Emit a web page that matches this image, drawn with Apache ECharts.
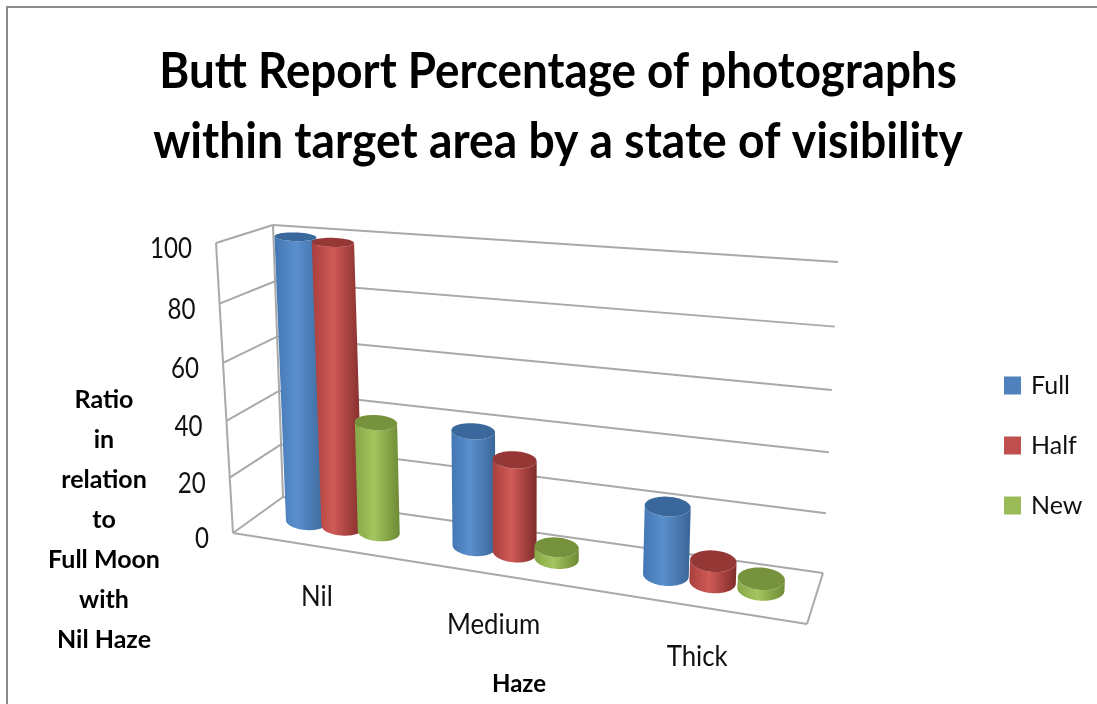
<!DOCTYPE html>
<html>
<head>
<meta charset="utf-8">
<style>
  html, body { margin: 0; padding: 0; background: #fff; }
  #chart { width: 1097px; height: 704px; }
</style>
<script src="https://cdn.jsdelivr.net/npm/echarts@6/dist/echarts.min.js"></script>
</head>
<body>
<div id="chart"></div>
<script>
const hazeLevels = ["Nil", "Medium", "Thick"];
const yTicks = [0, 20, 40, 60, 80, 100];
const fullMoon = [100, 40, 23];
const halfMoon = [99, 32, 7];
const newMoon = [39, 4, 3.5];

const FONT = "Lato, 'Open Sans', sans-serif";

// corners of the tilted box on the page, order: (0,0) (1,0) (1,1) (0,1)
const floorQuad = [[283, 497], [823, 573], [807, 624], [233, 533]];
const backQuad = [[283, 497], [823, 573], [838, 262], [273, 225]];
const frontQuad = [[233, 533], [807, 624], [826, 292], [216, 243]];

function quadMap(q) {
  const [p0, p1, p2, p3] = q;
  const dx1 = p1[0] - p2[0], dx2 = p3[0] - p2[0], sx = p0[0] - p1[0] + p2[0] - p3[0];
  const dy1 = p1[1] - p2[1], dy2 = p3[1] - p2[1], sy = p0[1] - p1[1] + p2[1] - p3[1];
  const det = dx1 * dy2 - dx2 * dy1;
  const g = (sx * dy2 - dx2 * sy) / det;
  const h = (dx1 * sy - sx * dy1) / det;
  const a = p1[0] - p0[0] + g * p1[0], b = p3[0] - p0[0] + h * p3[0];
  const d = p1[1] - p0[1] + g * p1[1], e = p3[1] - p0[1] + h * p3[1];
  return (u, v) => {
    const w = g * u + h * v + 1;
    return [(a * u + b * v + p0[0]) / w, (d * u + e * v + p0[1]) / w];
  };
}
const floorMap = quadMap(floorQuad);
const backMap = quadMap(backQuad);
const frontMap = quadMap(frontQuad);

// u across the floor, h up the wall, w from back wall (0) to front edge (1)
function project(u, h, w) {
  const base = floorMap(u, w);
  const b0 = backMap(u, 0), b1 = backMap(u, h);
  const f0 = frontMap(u, 0), f1 = frontMap(u, h);
  return [
    base[0] + (b1[0] - b0[0]) * (1 - w) + (f1[0] - f0[0]) * w,
    base[1] + (b1[1] - b0[1]) * (1 - w) + (f1[1] - f0[1]) * w
  ];
}

// the hidden grid gives u and h through the library's scales
function toBox(api, params, cat, val) {
  const pt = api.coord([cat, val]);
  const cs = params.coordSys;
  return [(pt[0] - cs.x) / cs.width, (cs.y + cs.height - pt[1]) / cs.height];
}

const GRID_LINE = { stroke: "#a9a9a9", lineWidth: 2 };
const BAR_ROW = 0.5, BAR_STEP = 0.0745, BAR_SHIFT = 0.011, RAD_U = 0.04, RAD_W = 0.23;

function seg(a, b) {
  return { type: "line", shape: { x1: a[0], y1: a[1], x2: b[0], y2: b[1] }, style: GRID_LINE };
}

function renderWall(params, api) {
  const h = toBox(api, params, 0, api.value(0))[1];
  const kids = [seg(project(0, h, 1), project(0, h, 0)), seg(project(0, h, 0), project(1, h, 0))];
  if (h === 0) {
    kids.push(seg(project(0, 0, 1), project(1, 0, 1)));
    kids.push(seg(project(1, 0, 1), project(1, 0, 0)));
    kids.push(seg(project(0, 0, 1), project(0, 1, 1)));
    kids.push(seg(project(0, 0, 0), project(0, 1, 0)));
  }
  return { type: "group", children: kids };
}

function renderTick(params, api) {
  const val = api.value(0);
  const h = toBox(api, params, 0, val)[1];
  const p = project(0, h, 1);
  return {
    type: "text",
    x: p[0] - 24, y: p[1] + 6,
    scaleX: 0.86,
    style: { text: String(val), fill: "#111", font: "28px " + FONT, textAlign: "right", textVerticalAlign: "middle" }
  };
}

function renderCat(params, api) {
  const i = api.value(0);
  const u = toBox(api, params, i, 0)[0];
  const p = project(u, 0, 1);
  return {
    type: "text",
    x: p[0] + 4, y: p[1] + 51,
    scaleX: 0.92,
    style: { text: hazeLevels[i], fill: "#111", font: "28px " + FONT, textAlign: "center", textVerticalAlign: "middle" }
  };
}

function ellipsePts(c, rx, tilt, ry, from, to) {
  const pts = [];
  for (let k = 0; k <= 48; k++) {
    const t = from + (to - from) * k / 48;
    pts.push([c[0] + rx * Math.cos(t), c[1] + rx * tilt * Math.cos(t) + ry * Math.sin(t)]);
  }
  return pts;
}

function cylinder(slot, shades) {
  return function (params, api) {
    const box = toBox(api, params, api.value(0), api.value(1));
    const u = box[0] + BAR_SHIFT + slot * BAR_STEP, h = box[1];
    const top = project(u, h, BAR_ROW), bot = project(u, 0, BAR_ROW);
    // perspective overdoes the width change from left to right, so damp it
    const radius = (hh) => {
      const a = project(u - RAD_U, hh, BAR_ROW), b = project(u + RAD_U, hh, BAR_ROW);
      return 13 + 0.4 * Math.abs(b[0] - a[0]) / 2;
    };
    const slope = (hh) => {
      const a = project(u - RAD_U, hh, BAR_ROW), b = project(u + RAD_U, hh, BAR_ROW);
      return 0.4 * (b[1] - a[1]) / (b[0] - a[0]);
    };
    const ryOf = (hh) => Math.abs(project(u, hh, BAR_ROW + RAD_W)[1] - project(u, hh, BAR_ROW - RAD_W)[1]) / 2;
    const rt = radius(h), rb = radius(0), st = slope(h), sb = slope(0), ryT = ryOf(h), ryB = ryOf(0);
    const body = ellipsePts(top, rt, st, ryT, Math.PI, 0).concat(ellipsePts(bot, rb, sb, ryB, 0, Math.PI));
    return {
      type: "group",
      children: [
        {
          type: "polygon",
          shape: { points: body },
          style: {
            fill: new echarts.graphic.LinearGradient(0, 0, 1, 0, [
              { offset: 0, color: shades[0] },
              { offset: 0.42, color: shades[1] },
              { offset: 1, color: shades[2] }
            ])
          }
        },
        {
          type: "polygon",
          shape: { points: ellipsePts(top, rt, st, ryT, 0, Math.PI * 2) },
          style: { fill: shades[3] }
        }
      ]
    };
  };
}

function barSeries(name, values, slot, legendColor, shades) {
  return {
    name: name,
    type: "custom",
    silent: true,
    clip: false,
    z: 5,
    itemStyle: { color: legendColor },
    data: values.map((v, i) => [i, v]),
    renderItem: cylinder(slot, shades)
  };
}

const chart = echarts.init(document.getElementById("chart"));
chart.setOption({
  animation: false,
  backgroundColor: "#fff",
  title: [
    {
      text: "Ratio\nin\nrelation\nto\nFull Moon\nwith\nNil Haze",
      left: 104, top: 380, padding: 0, textAlign: "center",
      textStyle: { fontFamily: FONT, fontWeight: "bold", fontSize: 25, lineHeight: 40, color: "#000" }
    },
    {
      text: "Haze",
      left: 519, top: 672, padding: 0, textAlign: "center",
      textStyle: { fontFamily: FONT, fontWeight: "bold", fontSize: 24, color: "#000" }
    }
  ],
  legend: {
    orient: "vertical",
    left: 1004, top: 373, padding: 0,
    icon: "rect",
    itemWidth: 17, itemHeight: 18, itemGap: 35,
    data: ["Full", "Half", "New"],
    textStyle: { fontFamily: FONT, fontSize: 25, color: "#111", padding: [0, 0, 0, 5] }
  },
  grid: { left: 216, top: 225, width: 620, height: 310 },
  xAxis: { type: "category", data: hazeLevels, show: false },
  yAxis: { type: "value", min: 0, max: 100, interval: 20, show: false },
  graphic: [
    {
      type: "polyline",
      shape: { points: [[7, 704], [7, 7], [1097, 7]] },
      style: { stroke: "#8c8c8c", lineWidth: 2, fill: "none" }
    },
    {
      type: "text",
      x: 558, y: 72, scaleX: 0.915,
      style: { text: "Butt Report Percentage of photographs", fill: "#000", font: "bold 50px " + FONT, textAlign: "center", textVerticalAlign: "middle" }
    },
    {
      type: "text",
      x: 558, y: 142, scaleX: 0.925,
      style: { text: "within target area by a state of visibility", fill: "#000", font: "bold 50px " + FONT, textAlign: "center", textVerticalAlign: "middle" }
    }
  ],
  series: [
    { type: "custom", silent: true, clip: false, z: 1, data: yTicks.map(v => [v]), renderItem: renderWall },
    { type: "custom", silent: true, clip: false, z: 2, data: yTicks.map(v => [v]), renderItem: renderTick },
    { type: "custom", silent: true, clip: false, z: 2, data: hazeLevels.map((_, i) => [i]), renderItem: renderCat },
    barSeries("Full", fullMoon, -1, "#4f81bd", ["#4377b4", "#5a8fcd", "#3a6597", "#3a689c"]),
    barSeries("Half", halfMoon, 0, "#c0504d", ["#a93f3d", "#d05a56", "#7f2c2a", "#953735"]),
    barSeries("New", newMoon, 1, "#9bbb59", ["#86a746", "#a3c55e", "#6d8a35", "#76923c"])
  ]
});
</script>
</body>
</html>
